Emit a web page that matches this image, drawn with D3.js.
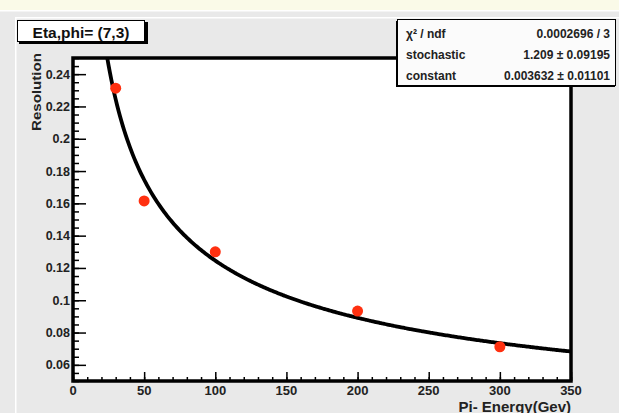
<!DOCTYPE html>
<html>
<head>
<meta charset="utf-8">
<script src="https://cdn.jsdelivr.net/npm/d3@7"></script>
<style>
  body { margin: 0; background: #e9e9e9; }
  svg { display: block; font-family: "Liberation Sans", Arial, sans-serif; font-weight: bold; }
</style>
</head>
<body>
<div id="chart-area"></div>
<script>
// chart size
width = 619;
height = 413

// measured points (energy, resolution)
let energies = [30, 50, 100, 200, 300]
let resolutions = [0.2313, 0.1615, 0.1300, 0.0933, 0.0712]

// fit parameters from the stats box
let stochastic = 1.209
let constant = 0.003632

let xTicks = [0, 50, 100, 150, 200, 250, 300, 350]
let yTicks = [0.06, 0.08, 0.1, 0.12, 0.14, 0.16, 0.18, 0.2, 0.22, 0.24]

let statsNames = ["\u03c7\u00b2 / ndf", "stochastic", "constant"]
let statsValues = ["0.0002696 / 3", "1.209 \u00b1 0.09195", "0.003632 \u00b1 0.01101"]

let data = energies.map((e, i) => ({ e: e, r: resolutions[i] }))

Draw(data)

function Draw(data) {
  let left = 73, right = 571, top = 58, bottom = 381

  let xScale = d3.scaleLinear().domain([0, 350]).range([left, right])
  let yScale = d3.scaleLinear().domain([0.05, 0.25]).range([bottom, top])

  svg = d3.select("#chart-area")
    .append("svg")
    .attr("width", width)
    .attr("height", height)

  // canvas background
  svg.append("rect").attr("x", 0).attr("y", 0).attr("width", width).attr("height", 10).attr("fill", "#fafae8")
  svg.append("rect").attr("x", 0).attr("y", 10).attr("width", width).attr("height", 1.5).attr("fill", "#ffffff")
  svg.append("rect").attr("x", 15).attr("y", 17).attr("width", width).attr("height", 1.5).attr("fill", "#ffffff")
  svg.append("rect").attr("x", 15).attr("y", 17).attr("width", 1.5).attr("height", height).attr("fill", "#ffffff")

  // frame
  svg.append("rect")
    .attr("x", left).attr("y", top)
    .attr("width", right - left).attr("height", bottom - top)
    .attr("fill", "white")

  svg.append("defs").append("clipPath").attr("id", "clip")
    .append("rect")
    .attr("x", left).attr("y", top)
    .attr("width", right - left).attr("height", bottom - top)

  // fit curve: a/sqrt(E) + c
  let curve = d3.range(15, 351, 1).map(e => [e, stochastic / Math.sqrt(e) + constant])
  let line = d3.line().x(d => xScale(d[0])).y(d => yScale(d[1])).curve(d3.curveMonotoneX)

  svg.append("path")
    .datum(curve)
    .attr("clip-path", "url(#clip)")
    .attr("d", line)
    .attr("fill", "none")
    .attr("stroke", "black")
    .attr("stroke-width", 3.8)

  // data points
  svg.selectAll("circle")
    .data(data)
    .enter().append("circle")
    .attr("cx", d => xScale(d.e))
    .attr("cy", d => yScale(d.r))
    .attr("r", 5.5)
    .attr("fill", "#ff3010")

  // axes, ticks inside the frame
  let xAxis = d3.axisTop(xScale).tickValues(d3.range(0, 351, 10)).tickSize(4).tickFormat("")
  let xAxisMajor = d3.axisTop(xScale).tickValues(xTicks).tickSize(9).tickFormat("")
  let yAxis = d3.axisRight(yScale).tickValues(d3.range(0.05, 0.2501, 0.005)).tickSize(6).tickFormat("")
  let yAxisMajor = d3.axisRight(yScale).tickValues(yTicks).tickSize(13).tickFormat("")

  let tickGroups = [
    svg.append("g").attr("transform", "translate(0," + bottom + ")").call(xAxis),
    svg.append("g").attr("transform", "translate(0," + bottom + ")").call(xAxisMajor),
    svg.append("g").attr("transform", "translate(" + left + ",0)").call(yAxis),
    svg.append("g").attr("transform", "translate(" + left + ",0)").call(yAxisMajor)
  ]
  tickGroups.forEach(g => {
    g.select(".domain").remove()
    g.selectAll("line").attr("stroke", "black").attr("stroke-width", 1.5)
  })

  svg.append("rect")
    .attr("x", left).attr("y", top)
    .attr("width", right - left).attr("height", bottom - top)
    .attr("fill", "none")
    .attr("stroke", "black")
    .attr("stroke-width", 3.5)

  // tick labels
  svg.selectAll(".xlab")
    .data(xTicks)
    .enter().append("text")
    .attr("x", d => xScale(d))
    .attr("y", bottom + 13.5)
    .attr("text-anchor", "middle")
    .attr("font-size", 13)
    .attr("fill", "#222")
    .text(d => d)

  svg.selectAll(".ylab")
    .data(yTicks)
    .enter().append("text")
    .attr("x", left - 3)
    .attr("y", d => yScale(d) + 4.5)
    .attr("text-anchor", "end")
    .attr("font-size", 12.5)
    .attr("fill", "#222")
    .text(d => d3.format("")(+d.toFixed(2)))

  // axis titles
  svg.append("text")
    .attr("x", right)
    .attr("y", 411.5)
    .attr("text-anchor", "end")
    .attr("font-size", 15)
    .attr("fill", "#222")
    .text("Pi- Energy(Gev)")

  svg.append("text")
    .attr("transform", "translate(41," + 53 + ") rotate(-90)")
    .attr("text-anchor", "end")
    .attr("font-size", 13)
    .attr("textLength", 78)
    .attr("lengthAdjust", "spacingAndGlyphs")
    .attr("fill", "#222")
    .text("Resolution")

  // title box
  svg.append("rect").attr("x", 19).attr("y", 22).attr("width", 129).attr("height", 22).attr("fill", "black")
  svg.append("rect").attr("x", 17.5).attr("y", 20.5).attr("width", 127).attr("height", 21)
    .attr("fill", "white").attr("stroke", "black").attr("stroke-width", 1)
  svg.append("text")
    .attr("x", 81).attr("y", 37.5)
    .attr("text-anchor", "middle")
    .attr("font-size", 15.5)
    .attr("fill", "#111")
    .text("Eta,phi= (7,3)")

  // stats box
  svg.append("rect").attr("x", 396).attr("y", 21).attr("width", 219).attr("height", 66).attr("fill", "black")
  svg.append("rect").attr("x", 397.5).attr("y", 19.5).attr("width", 218).attr("height", 66)
    .attr("fill", "#fbfbfb").attr("stroke", "black").attr("stroke-width", 1)

  svg.selectAll(".sname")
    .data(statsNames)
    .enter().append("text")
    .attr("x", 406)
    .attr("y", (d, i) => 37.5 + i * 21)
    .attr("font-size", 12)
    .attr("fill", "#222")
    .text(d => d)

  svg.selectAll(".sval")
    .data(statsValues)
    .enter().append("text")
    .attr("x", 610)
    .attr("y", (d, i) => 37.5 + i * 21)
    .attr("text-anchor", "end")
    .attr("font-size", 12)
    .attr("fill", "#222")
    .text(d => d)
}
</script>
</body>
</html>
